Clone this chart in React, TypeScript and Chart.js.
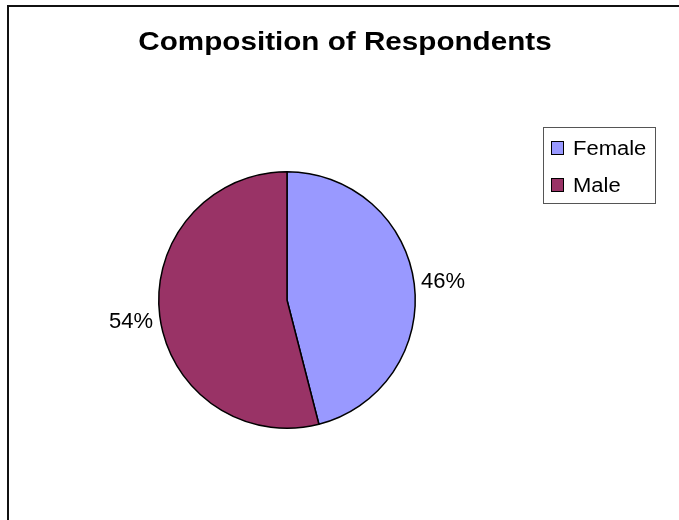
import React, { useEffect, useRef } from "react";
import { Chart, registerables } from "chart.js";

Chart.register(...registerables);

const titleText = "Composition of Respondents";
const categories = ["Female", "Male"];
const shares = [46, 54];
const sliceColors = ["#9999FF", "#993366"];

// Draws text stretched horizontally around an anchor point.
function stretchedText(
  ctx: CanvasRenderingContext2D,
  text: string,
  x: number,
  y: number,
  font: string,
  sx: number,
  align: CanvasTextAlign
) {
  ctx.save();
  ctx.font = font;
  ctx.textAlign = align;
  ctx.textBaseline = "alphabetic";
  ctx.fillStyle = "#000";
  ctx.translate(x, y);
  ctx.scale(sx, 1);
  ctx.fillText(text, 0, 0);
  ctx.restore();
}

const decorations = {
  id: "decorations",
  afterDraw(chart: any) {
    const ctx: CanvasRenderingContext2D = chart.ctx;
    // frame
    ctx.save();
    ctx.fillStyle = "#111";
    ctx.fillRect(7, 5, 2, 515);
    ctx.fillRect(7, 5, 672, 2);
    ctx.restore();

    // title
    stretchedText(ctx, titleText, 345, 50, "bold 26px 'Liberation Sans', Arial, sans-serif", 1.14, "center");

    // percentage labels outside each slice
    const meta = chart.getDatasetMeta(0);
    const values: number[] = chart.data.datasets[0].data;
    const total = values.reduce((a, b) => a + b, 0);
    meta.data.forEach((arc: any, i: number) => {
      const p = arc.getProps(["x", "y", "startAngle", "endAngle", "outerRadius"], true);
      const mid = (p.startAngle + p.endAngle) / 2;
      const r = p.outerRadius + 29;
      const lx = p.x + Math.cos(mid) * r;
      const ly = p.y + Math.sin(mid) * r;
      const txt = Math.round((values[i] / total) * 100) + "%";
      stretchedText(ctx, txt, lx, ly + 8, "22px 'Liberation Sans', Arial, sans-serif", 1, "center");
    });

    // legend
    ctx.save();
    ctx.strokeStyle = "#555";
    ctx.lineWidth = 1;
    ctx.strokeRect(543.5, 127.5, 112, 76);
    const rows = [148, 185];
    chart.data.labels.forEach((lab: string, i: number) => {
      const cy = rows[i];
      ctx.fillStyle = chart.data.datasets[0].backgroundColor[i];
      ctx.fillRect(552, cy - 6, 11, 12);
      ctx.strokeStyle = "#000";
      ctx.strokeRect(551.5, cy - 6.5, 12, 13);
      stretchedText(ctx, lab, 573, cy + 7, "20px 'Liberation Sans', Arial, sans-serif", 1.1, "left");
    });
    ctx.restore();
  },
};

export default function App() {
  const ref = useRef<HTMLCanvasElement | null>(null);

  useEffect(() => {
    document.body.style.margin = "0";
    const chart = new Chart(ref.current as HTMLCanvasElement, {
      type: "pie",
      data: {
        labels: categories,
        datasets: [
          {
            data: shares,
            backgroundColor: sliceColors,
            borderColor: "#000",
            borderWidth: 1.5,
          },
        ],
      },
      options: {
        animation: false,
        responsive: false,
        layout: { padding: { left: 158, right: 263, top: 171, bottom: 91 } },
        plugins: {
          legend: { display: false },
          title: { display: false },
          tooltip: { enabled: false },
        },
      },
      plugins: [decorations],
    });
    return () => chart.destroy();
  }, []);

  return (
    <div style={{ position: "absolute", left: 0, top: 0, width: 679, height: 520, background: "#fff" }}>
      <canvas ref={ref} width={679} height={520} style={{ width: 679, height: 520, display: "block" }} />
    </div>
  );
}
